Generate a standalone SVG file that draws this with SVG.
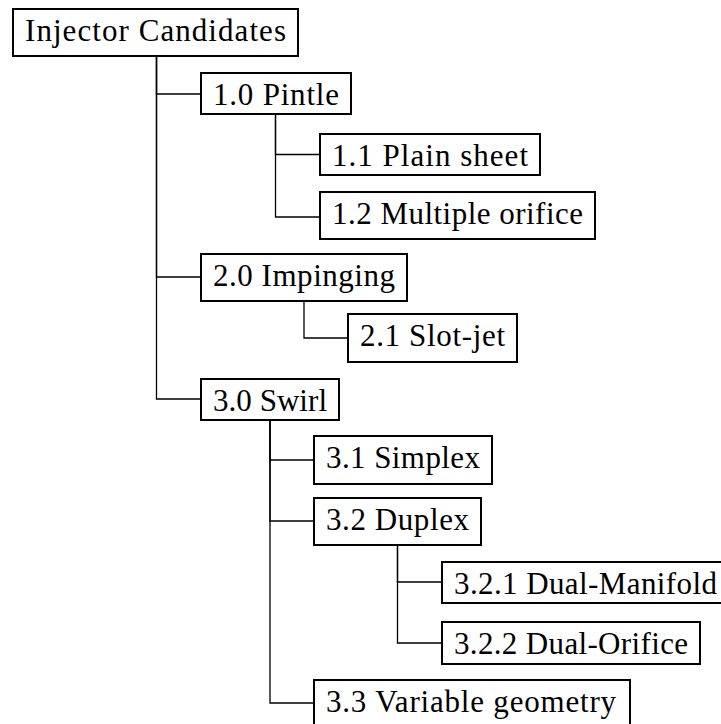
<svg xmlns="http://www.w3.org/2000/svg" width="721" height="724" viewBox="0 0 721 724">
<style>
.box{fill:#fff;stroke:#000;stroke-width:2}
.lbl{font-family:"Liberation Serif","DejaVu Serif",serif;font-size:31px;fill:#000}
.conn{fill:none;stroke:#000;stroke-width:1.3}
</style>
<rect width="721" height="724" fill="#fff"/>
<g id="connectors">
<path class="conn" d="M156.5,56 V94 H201"/>
<path class="conn" d="M156.5,56 V277 H201"/>
<path class="conn" d="M156.5,56 V399 H201"/>
<path class="conn" d="M275.5,114 V154.5 H320"/>
<path class="conn" d="M275.5,114 V217 H320"/>
<path class="conn" d="M304,301 V338 H348"/>
<path class="conn" d="M270,420 V460 H314"/>
<path class="conn" d="M270,420 V521 H314"/>
<path class="conn" d="M270,420 V703 H314"/>
<path class="conn" d="M397.5,545 V582 H442"/>
<path class="conn" d="M397.5,545 V643 H442"/>
</g>
<g id="root"><rect class="box" x="13" y="9" width="285" height="47"/><text class="lbl" x="25" y="41" textLength="261" lengthAdjust="spacing">Injector Candidates</text></g>
<g id="n1_0"><rect class="box" x="201" y="73" width="150" height="41"/><text class="lbl" x="213" y="105" textLength="126" lengthAdjust="spacing">1.0 Pintle</text></g>
<g id="n1_1"><rect class="box" x="320" y="134" width="220" height="41"/><text class="lbl" x="332" y="166" textLength="196" lengthAdjust="spacing">1.1 Plain sheet</text></g>
<g id="n1_2"><rect class="box" x="320" y="192" width="275" height="47"/><text class="lbl" x="332" y="224" textLength="251" lengthAdjust="spacing">1.2 Multiple orifice</text></g>
<g id="n2_0"><rect class="box" x="201" y="254" width="206" height="47"/><text class="lbl" x="213" y="286" textLength="182" lengthAdjust="spacing">2.0 Impinging</text></g>
<g id="n2_1"><rect class="box" x="348" y="314" width="169" height="48"/><text class="lbl" x="360" y="346" textLength="145" lengthAdjust="spacing">2.1 Slot-jet</text></g>
<g id="n3_0"><rect class="box" x="201" y="379" width="138" height="41"/><text class="lbl" x="213" y="411" textLength="114" lengthAdjust="spacing">3.0 Swirl</text></g>
<g id="n3_1"><rect class="box" x="314" y="436" width="178" height="48"/><text class="lbl" x="326" y="468" textLength="154" lengthAdjust="spacing">3.1 Simplex</text></g>
<g id="n3_2"><rect class="box" x="314" y="498" width="167" height="47"/><text class="lbl" x="326" y="530" textLength="143" lengthAdjust="spacing">3.2 Duplex</text></g>
<g id="n3_2_1"><rect class="box" x="442" y="562" width="287" height="41"/><text class="lbl" x="454" y="594" textLength="263" lengthAdjust="spacing">3.2.1 Dual-Manifold</text></g>
<g id="n3_2_2"><rect class="box" x="442" y="622" width="258" height="42"/><text class="lbl" x="454" y="654" textLength="234" lengthAdjust="spacing">3.2.2 Dual-Orifice</text></g>
<g id="n3_3"><rect class="box" x="314" y="680" width="316" height="47"/><text class="lbl" x="326" y="712" textLength="290" lengthAdjust="spacing">3.3 Variable geometry</text></g>
</svg>
